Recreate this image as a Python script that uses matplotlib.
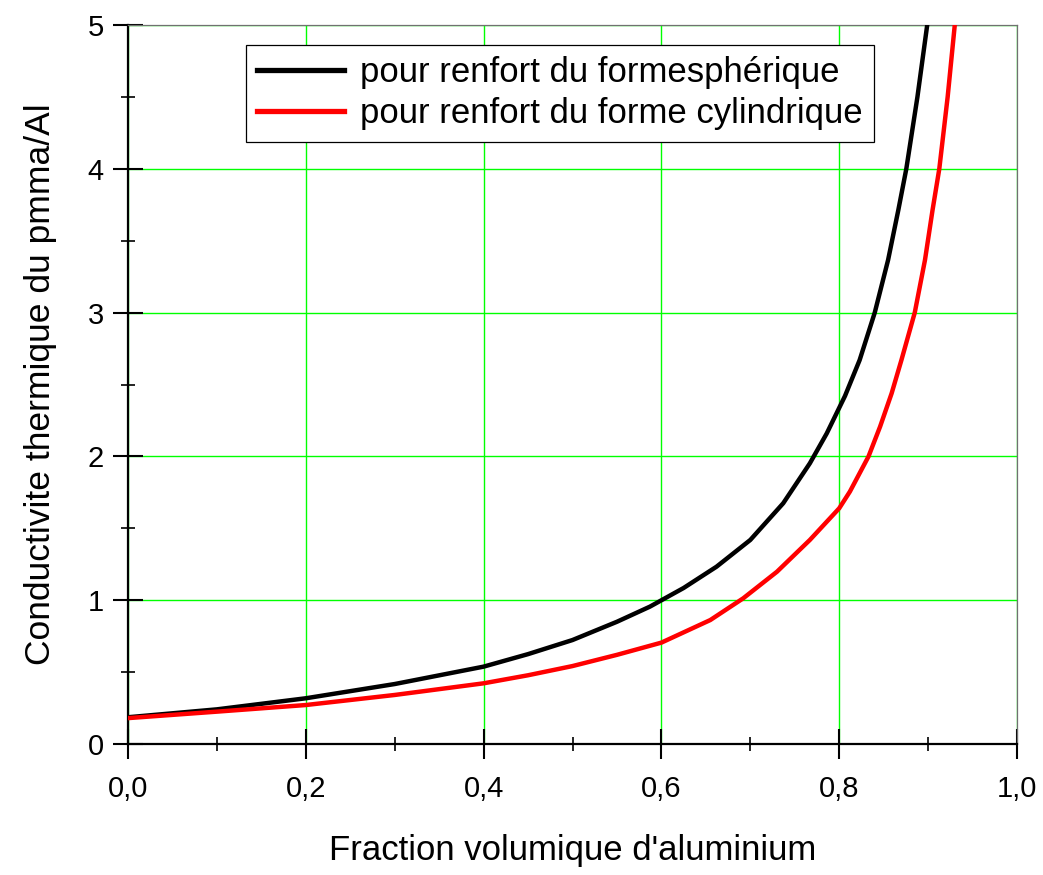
import numpy as np
import matplotlib
matplotlib.use("Agg")
import matplotlib.pyplot as plt
from matplotlib.ticker import MultipleLocator

plt.rcParams['font.family'] = ['Liberation Sans', 'DejaVu Sans']

# fraction volumique / conductivite
x_sph = [0.0, 0.1, 0.2, 0.3, 0.4, 0.45, 0.5, 0.55, 0.587, 0.625, 0.662, 0.70,
         0.737, 0.767, 0.786, 0.8065, 0.823, 0.840, 0.855, 0.8665, 0.8755, 0.888, 0.899]
y_sph = [0.186, 0.241, 0.318, 0.417, 0.538, 0.625, 0.723, 0.85, 0.955, 1.085,
         1.233, 1.419, 1.674, 1.952, 2.16, 2.42, 2.670, 3.0, 3.366, 3.713, 4.0, 4.5, 5.0]

x_cyl = [0.0, 0.1, 0.2, 0.3, 0.4, 0.45, 0.5, 0.55, 0.6, 0.655, 0.692, 0.730,
         0.767, 0.80, 0.812, 0.833, 0.846, 0.859, 0.870, 0.885, 0.8965, 0.905,
         0.9126, 0.922, 0.930]
y_cyl = [0.18, 0.225, 0.271, 0.341, 0.422, 0.478, 0.542, 0.62, 0.705, 0.862,
         1.013, 1.198, 1.419, 1.639, 1.755, 2.0, 2.207, 2.439, 2.670, 3.0, 3.366,
         3.713, 4.0, 4.5, 5.0]

xticks = [0.0, 0.2, 0.4, 0.6, 0.8, 1.0]
xtick_labels = ['0,0', '0,2', '0,4', '0,6', '0,8', '1,0']
yticks = [0, 1, 2, 3, 4, 5]
ytick_labels = ['0', '1', '2', '3', '4', '5']

fig = plt.figure(figsize=(10.43, 8.75), dpi=100)
ax = fig.add_axes([128/1043, 131/875, 889/1043, 719/875])

ax.plot(x_sph, y_sph, color='black', lw=3.2, label='pour renfort du formesphérique',
        zorder=3, solid_joinstyle='round')
ax.plot(x_cyl, y_cyl, color='red', lw=3.2, label='pour renfort du forme cylindrique',
        zorder=3, solid_joinstyle='round')

ax.set_xlim(0, 1)
ax.set_ylim(0, 5)
ax.set_xticks(xticks)
ax.set_xticklabels(xtick_labels)
ax.set_yticks(yticks)
ax.set_yticklabels(ytick_labels)
ax.xaxis.set_minor_locator(MultipleLocator(0.1))
ax.yaxis.set_minor_locator(MultipleLocator(0.5))

ax.grid(True, which='major', color='#00ff00', lw=1)
ax.set_axisbelow(True)

for s in ['left', 'bottom']:
    ax.spines[s].set_linewidth(1.6)
    ax.spines[s].set_color('black')
for s in ['top', 'right']:
    ax.spines[s].set_linewidth(0.9)
    ax.spines[s].set_color('#707070')

ax.tick_params(which='major', direction='inout', length=21, width=1.5,
               labelsize=21, top=False, right=False)
ax.tick_params(which='minor', direction='inout', length=10, width=1.2,
               top=False, right=False)
ax.tick_params(axis='x', which='major', pad=12)
ax.tick_params(axis='y', which='major', pad=7)

ax.set_xlabel("Fraction volumique d'aluminium", fontsize=25, labelpad=22)
ax.set_ylabel("Conductivite thermique du pmma/Al", fontsize=25.5, labelpad=22)

leg = ax.legend(loc='upper left', bbox_to_anchor=(0.1327, 0.9722), borderaxespad=0,
                fontsize=25, frameon=True, fancybox=False, framealpha=1,
                edgecolor='black', handlelength=2.5, handletextpad=0.45,
                labelspacing=0.22, borderpad=0.33)
leg.get_frame().set_linewidth(0.9)
for l in leg.get_lines():
    l.set_linewidth(3.8)

fig.savefig('out.png', dpi=100)
